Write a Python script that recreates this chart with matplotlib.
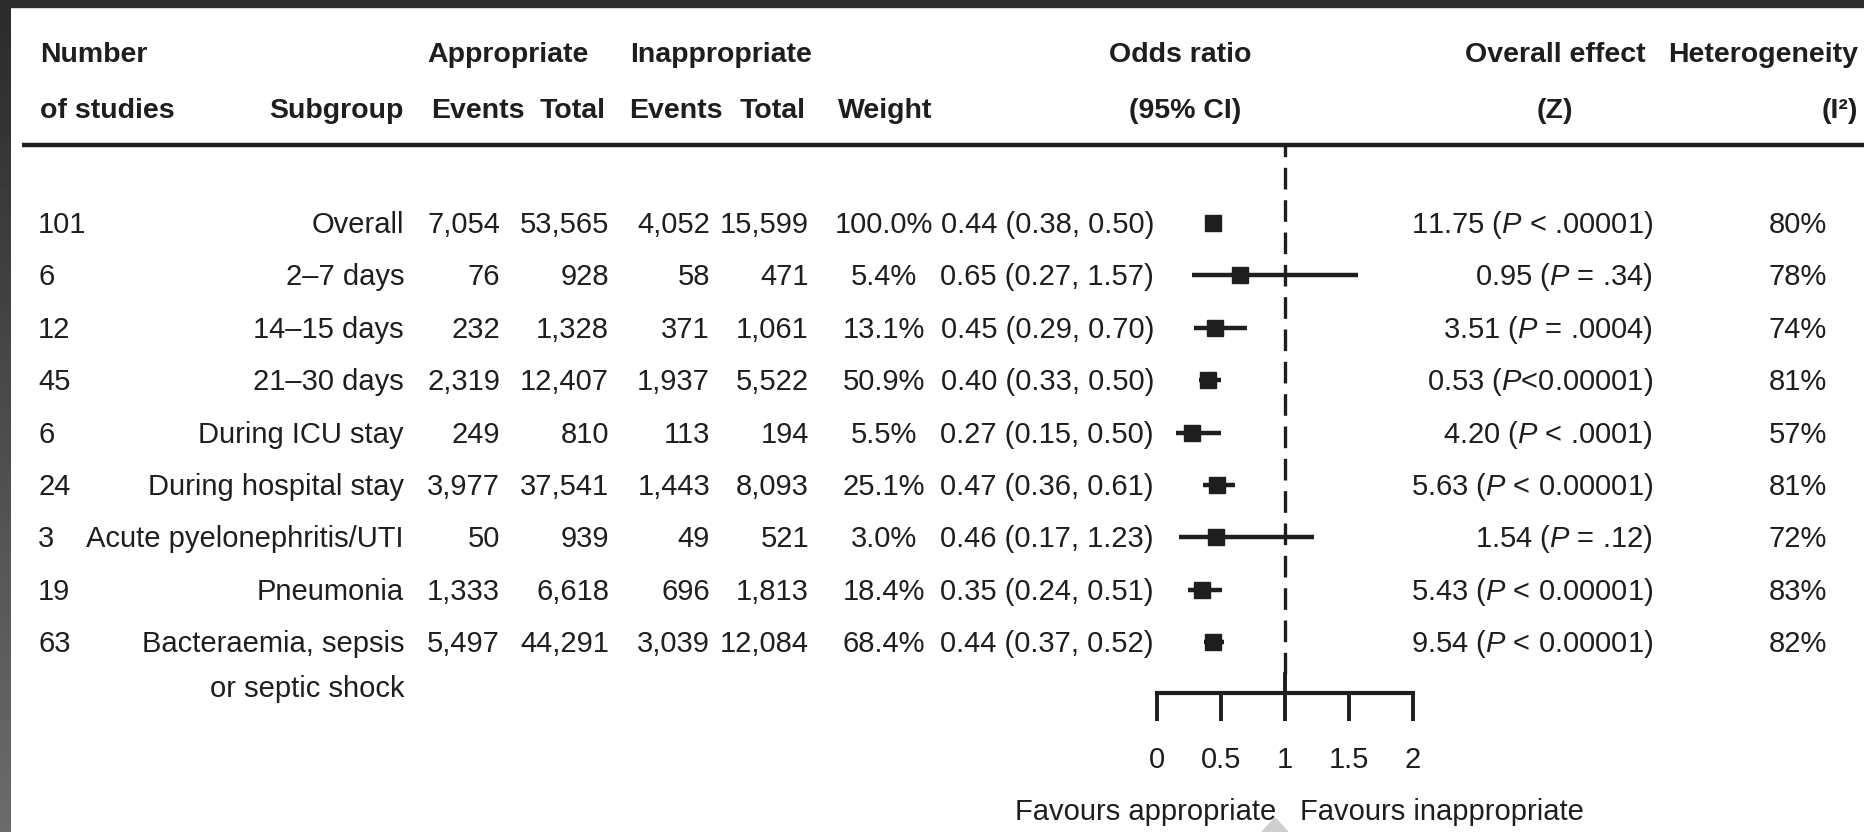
import matplotlib
matplotlib.use("Agg")
import numpy as np
import matplotlib.pyplot as plt
from matplotlib import font_manager as fm

# ---- data -------------------------------------------------------------
n_studies = [101, 6, 12, 45, 6, 24, 3, 19, 63]
subgroups = ["Overall", "2–7 days", "14–15 days", "21–30 days", "During ICU stay",
             "During hospital stay", "Acute pyelonephritis/UTI", "Pneumonia",
             "Bacteraemia, sepsis\nor septic shock"]
app_events = [7054, 76, 232, 2319, 249, 3977, 50, 1333, 5497]
app_total = [53565, 928, 1328, 12407, 810, 37541, 939, 6618, 44291]
inapp_events = [4052, 58, 371, 1937, 113, 1443, 49, 696, 3039]
inapp_total = [15599, 471, 1061, 5522, 194, 8093, 521, 1813, 12084]
weight = [100.0, 5.4, 13.1, 50.9, 5.5, 25.1, 3.0, 18.4, 68.4]
odds_ratio = [0.44, 0.65, 0.45, 0.40, 0.27, 0.47, 0.46, 0.35, 0.44]
ci_low = [0.38, 0.27, 0.29, 0.33, 0.15, 0.36, 0.17, 0.24, 0.37]
ci_high = [0.50, 1.57, 0.70, 0.50, 0.50, 0.61, 1.23, 0.51, 0.52]
z_value = [11.75, 0.95, 3.51, 0.53, 4.20, 5.63, 1.54, 5.43, 9.54]
p_text = [" < .00001", " = .34", " = .0004", "<0.00001", " < .0001",
          " < 0.00001", " = .12", " < 0.00001", " < 0.00001"]
i_squared = [80, 78, 74, 81, 57, 81, 72, 83, 82]
axis_ticks = [0, 0.5, 1, 1.5, 2]
axis_tick_labels = ["0", "0.5", "1", "1.5", "2"]

# ---- fonts ------------------------------------------------------------
names = {f.name for f in fm.fontManager.ttflist}
if "Liberation Sans Narrow" in names:
    FONT, FS, FSB = "Liberation Sans Narrow", 24, 24
else:
    FONT, FS, FSB = "Liberation Sans", 21, 20.5
plt.rcParams["font.family"] = [FONT, "DejaVu Sans"]
plt.rcParams["mathtext.fontset"] = "custom"
plt.rcParams["mathtext.rm"] = FONT
plt.rcParams["mathtext.it"] = FONT + ":italic"
plt.rcParams["mathtext.bf"] = FONT + ":bold"

INK = "#1e1e1e"
W, H = 1865, 832
fig = plt.figure(figsize=(W / 100, H / 100), dpi=100)
fig.patch.set_facecolor("white")

# full-figure canvas in pixel units for the table text
tab = fig.add_axes([0, 0, 1, 1])
tab.axis("off")

# dark frame along the top and left edges
shade = np.linspace(0.17, 0.42, 256).reshape(-1, 1)
tab.imshow(shade, cmap="gray", vmin=0, vmax=1, extent=(0, 11, H, 0),
           aspect="auto", zorder=5, interpolation="bilinear")
tab.add_patch(plt.Rectangle((0, 0), W, 7, color="#2b2b2b", zorder=6))
tab.add_patch(plt.Polygon([(1262, H), (1275, 818), (1288, H)],
                          color="#cfcfcf", zorder=0))
tab.set_xlim(0, W)
tab.set_ylim(H, 0)


def put(x, y, s, ha="left", bold=False, **kw):
    tab.text(x, y + 2, s, ha=ha, va="center",
             fontsize=FSB if bold else FS, color=INK,
             fontweight="bold" if bold else "normal", **kw)


# header
H1, H2 = 53, 109
put(40, H1, "Number", bold=True)
put(40, H2, "of studies", bold=True)
put(404, H2, "Subgroup", ha="right", bold=True)
put(508, H1, "Appropriate", ha="center", bold=True)
put(525, H2, "Events", ha="right", bold=True)
put(606, H2, "Total", ha="right", bold=True)
put(721, H1, "Inappropriate", ha="center", bold=True)
put(723, H2, "Events", ha="right", bold=True)
put(806, H2, "Total", ha="right", bold=True)
put(838, H2, "Weight", bold=True)
put(1180, H1, "Odds ratio", ha="center", bold=True)
put(1185, H2, "(95% CI)", ha="center", bold=True)
put(1555, H1, "Overall effect", ha="center", bold=True)
put(1555, H2, "(Z)", ha="center", bold=True)
put(1858, H1, "Heterogeneity", ha="right", bold=True)
put(1858, H2, "(I²)", ha="right", bold=True)
tab.plot([22, W], [145, 145], color=INK, lw=3.2, solid_capstyle="butt")

# table rows
ROW0, STEP = 223, 52.4
for i in range(len(subgroups)):
    y = ROW0 + STEP * i
    put(38, y, f"{n_studies[i]}")
    for k, line in enumerate(subgroups[i].split("\n")):
        put(404, y + 45 * k, line, ha="right")
    put(500, y, f"{app_events[i]:,}", ha="right")
    put(609, y, f"{app_total[i]:,}", ha="right")
    put(710, y, f"{inapp_events[i]:,}", ha="right")
    put(809, y, f"{inapp_total[i]:,}", ha="right")
    put(884, y, f"{weight[i]:.1f}%", ha="center")
    put(1154, y, f"{odds_ratio[i]:.2f} ({ci_low[i]:.2f}, {ci_high[i]:.2f})",
        ha="right")
    put(1653, y, f"{z_value[i]:.2f} ($P${p_text[i]})", ha="right")
    put(1827, y, f"{i_squared[i]}%", ha="right")

# forest panel: x in odds-ratio units, y in row index
x0_px, x1_px = 1157, 1413
top_px, bot_px = 145, 693
fax = fig.add_axes([x0_px / W, 1 - bot_px / H, (x1_px - x0_px) / W,
                    (bot_px - top_px) / H])
fax.set_xlim(0, 2)
fax.set_ylim((bot_px - ROW0) / STEP, (top_px - ROW0) / STEP)
fax.patch.set_alpha(0)
for side in ("top", "right", "left"):
    fax.spines[side].set_visible(False)
fax.spines["bottom"].set_linewidth(3.0)
fax.spines["bottom"].set_color(INK)
fax.spines["bottom"].set_capstyle("projecting")
fax.set_yticks([])
fax.set_xticks(axis_ticks)
fax.set_xticklabels(axis_tick_labels, fontsize=FS, color=INK)
fax.tick_params(axis="x", direction="out", length=20, width=2.8, color=INK,
                pad=18)
# line of no effect: dashed, turning solid just above the axis
fax.axvline(1, ymin=0.035, ymax=1, color=INK, lw=2.4, dashes=(6.5, 3.2),
            zorder=1)
fax.axvline(1, ymin=0, ymax=0.035, color=INK, lw=2.8, zorder=1)

rows = list(range(len(odds_ratio)))
fax.hlines(rows, ci_low, ci_high, color=INK, lw=3.2, zorder=2)
fax.plot(odds_ratio, rows, ls="none", marker="s", ms=11.5, color=INK, zorder=3)

# direction labels under the axis
put(1276, 810, "Favours appropriate", ha="right")
put(1300, 810, "Favours inappropriate")

fig.savefig("out.png", dpi=100, facecolor="white")
